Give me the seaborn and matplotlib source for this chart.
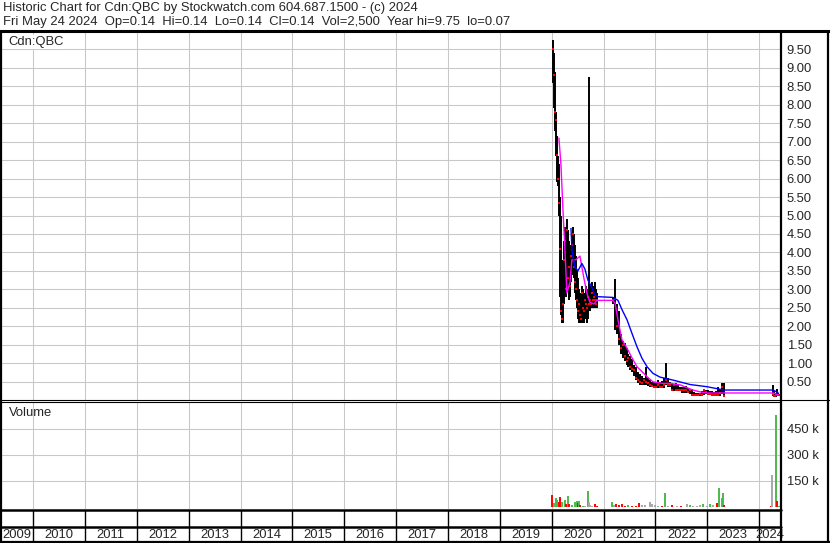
import matplotlib
matplotlib.use("Agg")
import matplotlib.pyplot as plt
import matplotlib.dates as mdates
import seaborn as sns
import pandas as pd

# --- price bars -------------------------------------------------------------
# 2020, weekly bars
seg1_start = "2020-01-10"
seg1_high = [9.75, 9.40, 8.90, 7.80, 7.15, 6.60, 6.40, 5.50, 5.00, 3.80, 3.40, 4.30,
             4.70, 4.50, 4.90, 4.60, 4.30, 4.00, 4.20, 4.40, 4.70, 4.50, 4.20, 3.90,
             3.50, 3.30, 3.00, 2.90, 2.80, 3.10, 3.00, 2.80, 2.90, 3.10, 3.00, 2.90,
             8.75, 3.10, 3.00, 3.20, 3.10, 3.00, 3.20, 3.00, 2.90]
seg1_low = [8.60, 7.90, 7.30, 6.60, 5.90, 5.80, 5.00, 2.80, 2.30, 2.10, 2.10, 2.60,
            3.10, 2.80, 3.20, 3.00, 2.70, 2.80, 3.20, 3.40, 3.60, 3.30, 2.90, 2.70,
            2.50, 2.20, 2.10, 2.10, 2.10, 2.20, 2.10, 2.10, 2.20, 2.30, 2.10, 2.20,
            2.40, 2.40, 2.50, 2.50, 2.60, 2.50, 2.60, 2.50, 2.50]
seg1_close = [9.50, 8.80, 7.80, 7.60, 6.65, 6.00, 5.35, 4.10, 2.40, 2.20, 2.60, 3.80,
              4.30, 3.00, 4.60, 3.30, 3.60, 3.10, 3.90, 4.20, 4.50, 3.60, 3.20, 3.00,
              2.70, 2.40, 2.60, 2.30, 2.20, 2.90, 2.50, 2.40, 2.70, 2.60, 2.50, 2.80,
              2.60, 2.70, 2.60, 2.90, 2.70, 2.80, 2.70, 2.60, 2.70]

# 2021 - 2023, two-week bars
seg2_start = "2021-03-05"
seg2_high = [2.80, 3.28, 2.60, 2.40, 1.80, 1.60, 1.55, 1.40, 1.25, 1.20, 1.10, 0.95,
             0.90, 0.75, 0.70, 0.65, 0.60, 0.90, 0.60, 0.55, 0.50, 0.50, 0.48, 0.55,
             0.50, 0.52, 0.60, 1.00, 0.60, 0.50, 0.45, 0.40, 0.45, 0.40, 0.35, 0.35,
             0.35, 0.38, 0.32, 0.30, 0.30, 0.22, 0.20, 0.20, 0.20, 0.25, 0.30, 0.28,
             0.26, 0.24, 0.25, 0.22, 0.24, 0.35, 0.30, 0.45, 0.45]
seg2_low = [2.60, 1.90, 1.80, 1.50, 1.25, 1.15, 1.05, 0.95, 0.90, 0.80, 0.75, 0.65,
            0.55, 0.45, 0.40, 0.40, 0.40, 0.40, 0.38, 0.35, 0.35, 0.33, 0.33, 0.33,
            0.33, 0.33, 0.33, 0.40, 0.35, 0.35, 0.25, 0.25, 0.25, 0.25, 0.25, 0.20,
            0.20, 0.20, 0.18, 0.15, 0.12, 0.12, 0.12, 0.12, 0.12, 0.12, 0.14, 0.15,
            0.14, 0.13, 0.12, 0.10, 0.12, 0.12, 0.12, 0.15, 0.07]
seg2_close = [2.70, 2.75, 2.00, 1.65, 1.40, 1.50, 1.20, 1.05, 1.15, 0.90, 0.85, 0.80,
              0.60, 0.55, 0.50, 0.45, 0.55, 0.50, 0.45, 0.40, 0.38, 0.35, 0.35, 0.40,
              0.35, 0.36, 0.40, 0.55, 0.40, 0.40, 0.27, 0.40, 0.27, 0.27, 0.27, 0.27,
              0.27, 0.27, 0.22, 0.27, 0.14, 0.14, 0.14, 0.14, 0.15, 0.14, 0.26, 0.22,
              0.17, 0.15, 0.14, 0.13, 0.14, 0.13, 0.20, 0.35, 0.10]

# 2024, weekly bars
seg3_start = "2024-04-05"
seg3_high = [0.40, 0.25, 0.20, 0.18, 0.30, 0.20, 0.16, 0.14]
seg3_low = [0.10, 0.08, 0.07, 0.08, 0.10, 0.12, 0.12, 0.14]
seg3_close = [0.15, 0.10, 0.12, 0.14, 0.14, 0.14, 0.14, 0.14]

# --- moving averages ----------------------------------------------------------
ma_short_dates = ["2020-02-21", "2020-03-06", "2020-03-20", "2020-04-03", "2020-04-17",
                  "2020-05-09", "2020-05-22", "2020-06-20", "2020-07-18", "2020-08-15",
                  "2020-09-05", "2020-09-26", "2020-10-25", "2020-11-15", "2021-03-08",
                  "2021-03-22", "2021-04-12", "2021-05-10", "2021-06-15", "2021-07-20",
                  "2021-08-24", "2021-09-28", "2021-11-03", "2021-12-15", "2022-02-23",
                  "2022-04-13", "2022-06-23", "2022-09-22", "2022-11-11", "2022-12-30",
                  "2023-04-29", "2024-04-08", "2024-05-13"]
ma_short = [7.10, 6.40, 5.20, 4.10, 2.90, 3.20, 3.80, 3.80, 3.90, 3.30, 2.90, 2.65,
            2.60, 2.70, 2.70, 2.63, 2.17, 1.63, 1.40, 1.14, 0.90, 0.77, 0.63, 0.49,
            0.45, 0.45, 0.41, 0.27, 0.22, 0.19, 0.19, 0.19, 0.14]

ma_long_dates = ["2020-05-16", "2020-05-23", "2020-06-13", "2020-07-04", "2020-08-01",
                 "2020-08-22", "2020-09-12", "2020-10-10", "2020-10-31", "2020-11-22",
                 "2021-03-08", "2021-04-12", "2021-05-10", "2021-06-15", "2021-07-20",
                 "2021-08-24", "2021-09-28", "2021-11-03", "2021-12-15", "2022-02-02",
                 "2022-05-04", "2022-09-01", "2022-12-30", "2023-04-29", "2024-04-08",
                 "2024-05-13"]
ma_long = [4.65, 4.05, 3.60, 3.50, 3.70, 3.55, 3.25, 3.05, 2.85, 2.80, 2.78, 2.70,
           2.45, 2.17, 1.80, 1.44, 1.13, 0.90, 0.72, 0.62, 0.54, 0.42, 0.36, 0.27,
           0.27, 0.20]

# --- volume (thousands of shares) -------------------------------------------------
vol_dates = ["2020-01-03", "2020-01-17", "2020-01-31", "2020-02-07", "2020-02-21",
             "2020-02-28", "2020-03-13", "2020-04-03", "2020-04-10", "2020-04-25",
             "2020-05-02", "2020-05-22", "2020-06-13", "2020-06-27", "2020-07-04",
             "2020-07-11", "2020-07-18", "2020-08-08", "2020-08-22", "2020-09-12",
             "2020-09-19", "2020-09-26", "2020-10-10", "2020-10-31", "2020-11-15",
             "2021-03-01", "2021-03-15", "2021-03-29", "2021-04-19", "2021-05-10",
             "2021-06-01", "2021-06-23", "2021-07-20", "2021-08-17", "2021-09-07",
             "2021-09-28", "2021-10-19", "2021-11-24", "2021-12-08", "2021-12-29",
             "2022-01-19", "2022-02-16", "2022-03-09", "2022-03-31", "2022-04-28",
             "2022-06-02", "2022-07-01", "2022-08-12", "2022-09-02", "2022-09-22",
             "2022-10-21", "2022-11-11", "2022-12-02", "2022-12-30", "2023-01-20",
             "2023-02-10", "2023-03-10", "2023-03-24", "2023-04-14", "2023-04-21",
             "2023-04-28", "2024-03-25", "2024-04-01", "2024-04-29", "2024-05-06",
             "2024-05-20"]
vol_k = [71, 23, 52, 40, 29, 58, 29, 40, 17, 62, 17, 12, 29, 35, 23, 37, 12, 6, 6, 94,
         29, 12, 6, 17, 6, 28, 12, 17, 12, 17, 6, 12, 6, 6, 23, 12, 12, 29, 17, 12, 6, 6,
         81, 6, 12, 6, 6, 17, 12, 6, 6, 12, 17, 6, 17, 12, 23, 110, 52, 81, 12, 6, 186,
         530, 35, 6]
vol_dir = ["down", "up", "up", "up", "down", "down", "up", "up", "down", "up", "down",
           "up", "up", "up", "down", "up", "down", "up", "flat", "up", "flat", "flat",
           "flat", "down", "down", "up", "flat", "down", "down", "down", "down", "up",
           "down", "down", "down", "flat", "flat", "flat", "flat", "flat", "flat",
           "down", "up", "flat", "down", "flat", "down", "flat", "up", "flat", "flat",
           "flat", "up", "flat", "up", "flat", "down", "up", "up", "up", "down", "down",
           "flat", "up", "down", "up"]

price_ticks = [0.5, 1.0, 1.5, 2.0, 2.5, 3.0, 3.5, 4.0, 4.5, 5.0, 5.5, 6.0, 6.5, 7.0,
               7.5, 8.0, 8.5, 9.0, 9.5]
vol_ticks_k = [150, 300, 450]
years = list(range(2009, 2025))
x_range = ("2009-05-20", "2024-06-03")

header_1 = "Historic Chart for Cdn:QBC by Stockwatch.com 604.687.1500 - (c) 2024"
header_2 = "Fri May 24 2024  Op=0.14  Hi=0.14  Lo=0.14  Cl=0.14  Vol=2,500  Year hi=9.75  lo=0.07"


def segment(start, freq, high, low, close):
    dates = pd.date_range(start, periods=len(high), freq=freq)
    return pd.DataFrame({"date": dates, "high": high, "low": low, "close": close})


bars = pd.concat([
    segment(seg1_start, "7D", seg1_high, seg1_low, seg1_close),
    segment(seg2_start, "14D", seg2_high, seg2_low, seg2_close),
    segment(seg3_start, "7D", seg3_high, seg3_low, seg3_close),
], ignore_index=True)
ma_s = pd.DataFrame({"date": pd.to_datetime(ma_short_dates), "value": ma_short})
ma_l = pd.DataFrame({"date": pd.to_datetime(ma_long_dates), "value": ma_long})
vol = pd.DataFrame({"date": pd.to_datetime(vol_dates),
                    "volume": [v * 1000 for v in vol_k], "dir": vol_dir})
vol_colors = {"up": "#4cb84c", "down": "#ff0000", "flat": "#a8a8a8"}

sns.set_style("white")
plt.rcParams["font.family"] = ["Liberation Sans", "DejaVu Sans"]
FS = 9.4
GRID = "#c8c8c8"

W, H = 830, 543
fig = plt.figure(figsize=(W / 100, H / 100), dpi=100)


def box(left, top, right, bottom):
    return [left / W, 1 - bottom / H, (right - left) / W, (bottom - top) / H]


ax_p = fig.add_axes(box(1, 31, 781, 400))
ax_v = fig.add_axes(box(1, 402, 781, 509), sharex=ax_p)
ax_s = fig.add_axes(box(1, 510, 781, 527), sharex=ax_p)
ax_y = fig.add_axes(box(1, 528, 781, 541), sharex=ax_p)

x0, x1 = pd.Timestamp(x_range[0]), pd.Timestamp(x_range[1])
ax_p.set_xlim(x0, x1)
ax_p.xaxis.set_major_locator(mdates.YearLocator())

for ax in (ax_p, ax_v, ax_s, ax_y):
    for s in ax.spines.values():
        s.set_visible(False)
    ax.tick_params(axis="x", length=0, labelbottom=False)
    ax.set_axisbelow(True)

# price panel
ax_p.vlines(bars["date"], bars["low"], bars["high"], color="black", lw=1.4, zorder=2)
sns.scatterplot(data=bars, x="date", y="close", ax=ax_p, color="red", marker="s",
                s=4, linewidth=0, zorder=3)
sns.lineplot(data=ma_s, x="date", y="value", ax=ax_p, color="#ff00ff", lw=1.0,
             estimator=None, zorder=4)
sns.lineplot(data=ma_l, x="date", y="value", ax=ax_p, color="#0000ff", lw=1.0,
             estimator=None, zorder=4)
ax_p.set_ylim(0, 10)
ax_p.set_yticks(price_ticks)
ax_p.set_yticklabels([f"{v:.2f}" for v in price_ticks])
ax_p.yaxis.tick_right()
ax_p.tick_params(axis="y", length=0, pad=4.0, labelsize=FS)
ax_p.grid(True, color=GRID, lw=0.75)
ax_p.set_xlabel("")
ax_p.set_ylabel("")

# volume panel
ax_v.vlines(vol["date"], 0, vol["volume"], lw=1.4,
            colors=[vol_colors[d] for d in vol["dir"]], zorder=2)
ax_v.set_ylim(-12000, 605000)
ax_v.set_yticks([v * 1000 for v in vol_ticks_k])
ax_v.set_yticklabels([f"{v} k" for v in vol_ticks_k])
ax_v.yaxis.tick_right()
ax_v.tick_params(axis="y", length=0, pad=4.0, labelsize=FS)
ax_v.grid(True, color=GRID, lw=0.75)

# date strip and year labels
for ax in (ax_s, ax_y):
    ax.set_yticks([])
    ax.grid(True, axis="x", color="black", lw=1.0)
n0, n1 = mdates.date2num(x0), mdates.date2num(x1)
for yr in years:
    a = max(mdates.date2num(pd.Timestamp(f"{yr}-01-01")), n0)
    b = min(mdates.date2num(pd.Timestamp(f"{yr + 1}-01-01")), n1)
    ax_y.text((a + b) / 2, 0.45, str(yr), transform=ax_y.get_xaxis_transform(),
              ha="center", va="center", fontsize=FS)

# frame lines (pixel positions)
def hline(y, xa, xb, lw):
    fig.add_artist(plt.Line2D([xa / W, xb / W], [1 - y / H, 1 - y / H],
                              transform=fig.transFigure, color="black", lw=lw))


def vline(x, ya, yb, lw):
    fig.add_artist(plt.Line2D([x / W, x / W], [1 - ya / H, 1 - yb / H],
                              transform=fig.transFigure, color="black", lw=lw))


hline(31, 0, 830, 2.2)
hline(400, 0, 830, 0.8)
hline(402, 0, 781, 0.8)
hline(509.5, 0, 781, 1.8)
hline(527, 0, 781, 1.8)
hline(541.5, 0, 830, 1.6)
vline(1, 31, 543, 1.6)
vline(781, 31, 543, 1.6)
vline(828, 31, 543, 1.6)

fig.text(3 / W, 1 - 8 / H, header_1, fontsize=FS, va="center")
fig.text(3 / W, 1 - 22 / H, header_2, fontsize=FS, va="center")
fig.text(8 / W, 1 - 42 / H, "Cdn:QBC", fontsize=FS, va="center",
         bbox=dict(facecolor="white", edgecolor="none", pad=0.5))
fig.text(9 / W, 1 - 413 / H, "Volume", fontsize=FS, va="center")

fig.savefig("out.png", dpi=100)
